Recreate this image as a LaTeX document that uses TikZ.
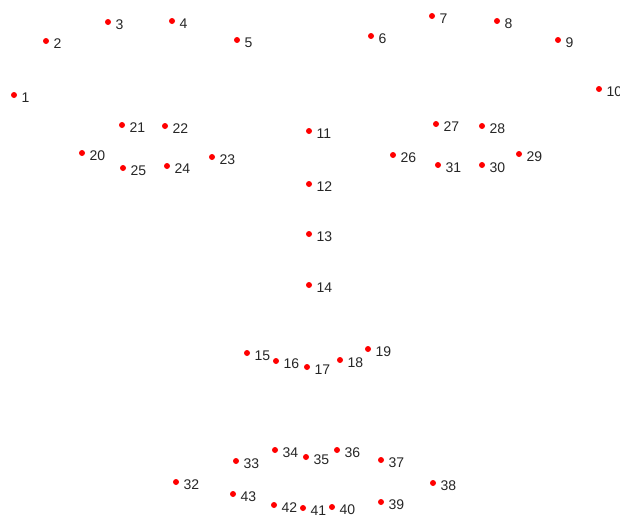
\documentclass[tikz,border=0pt]{standalone}
\usepackage{fontspec}
\setmainfont{Liberation Sans}
\usepackage{xcolor}
\usetikzlibrary{positioning}
\definecolor{mark@red}{RGB}{255,0,0}
\definecolor{mark@text}{RGB}{38,38,38}
\tikzset{
  landmarks/.style={
    x=1pt, y=-1pt,
    every node/.style={font=\fontsize{14}{14}\selectfont}
  },
  ldot/.style={                    % landmark point
    circle, fill=mark@red, draw=none,
    inner sep=0pt, minimum size=6pt
  },
  lnum/.style={                    % landmark index
    anchor=west, inner sep=0pt,
    text=mark@text
  }
}

\begin{document}
\begin{tikzpicture}[landmarks]
\useasboundingbox (0,0) rectangle (620,514);

% landmark positions, in pixels of the reference
\foreach \px/\py [count=\i] in {
  14/95, 46/41, 108/22, 172/21, 237/40,
  371/36, 432/16, 497/21, 558/40, 599/89,
  309/131, 309/184, 309/234, 309/285,
  247/353, 276/361, 307/367, 340/360, 368/349,
  82/153, 122/125, 165/126, 212/157, 167/166, 123/168,
  393/155, 436/124, 482/126, 519/154, 482/165, 438/165,
  176/482, 236/461, 275/450, 306/457, 337/450, 381/460,
  433/483, 381/502, 332/507, 303/508, 274/505, 233/494}
{
  \node[ldot] (p\i) at (\px,\py) {};
  \node[lnum] (t\i) at ([xshift=7.5pt,yshift=-2.5pt]p\i.center) {\i};
}

\end{tikzpicture}
\end{document}
